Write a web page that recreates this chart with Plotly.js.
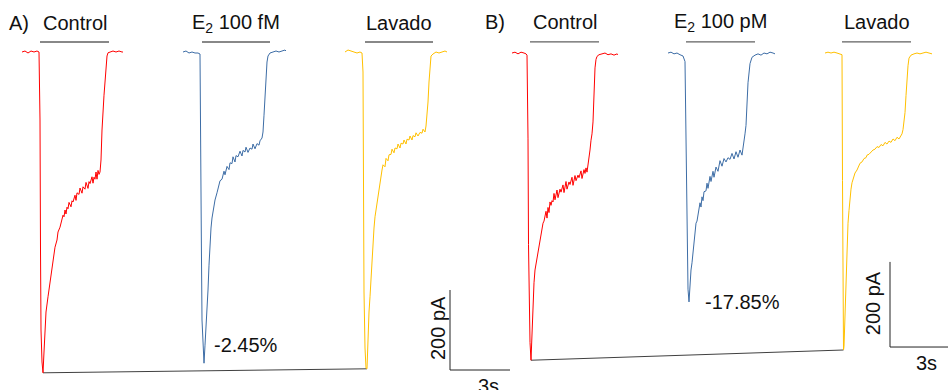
<!DOCTYPE html>
<html>
<head>
<meta charset="utf-8">
<script src="https://cdn.plot.ly/plotly-3.0.1.min.js"></script>
<style>body{margin:0;padding:0;background:#fff}#chart{width:948px;height:390px}</style>
</head>
<body>
<div id="chart"></div>
<script>
// ---------- Panel A (time in s, current in pA) ----------
const ctrlA_t = [1.10,1.25,1.40,1.55,1.70,1.85,1.95,2.00,2.025,2.05,2.10,2.15,2.20,2.25,2.30,2.40,2.50,2.60,2.70,2.75,2.85,2.90,3.00,3.10,3.15,3.20,3.25,3.30,3.35,3.40,3.45,3.55,3.60,3.65,3.75,3.80,3.85,3.95,4.00,4.10,4.15,4.25,4.30,4.40,4.45,4.50,4.60,4.65,4.70,4.75,4.80,4.85,4.90,4.95,5.00,5.05,5.10,5.20,5.30,5.35,5.40,5.50,5.65,5.80,5.95,6.10,6.15];
const ctrlA_i = [0,2.5,-2.5,2.5,0,2.5,0,-170,-495,-695,-775,-802,-750,-695,-650,-612,-578,-545,-510,-488,-470,-450,-438,-415,-408,-412,-395,-405,-388,-392,-376,-387,-372,-375,-358,-371,-352,-356,-340,-353,-337,-343,-326,-341,-324,-329,-312,-328,-313,-318,-300,-318,-296,-306,-300,-270,-195,-108,-32,-10,-2,0,2.5,0,2.5,0,0];

const e2A_t = [9.15,9.30,9.45,9.60,9.75,9.90,10.00,10.05,10.075,10.10,10.15,10.20,10.25,10.30,10.35,10.40,10.45,10.50,10.55,10.60,10.65,10.75,10.85,10.95,11.00,11.10,11.20,11.25,11.35,11.45,11.50,11.60,11.65,11.75,11.80,11.90,12.00,12.10,12.15,12.25,12.30,12.40,12.50,12.60,12.65,12.75,12.85,12.95,13.00,13.10,13.15,13.20,13.25,13.30,13.35,13.40,13.50,13.65,13.80,13.95,14.10,14.25,14.30];
const e2A_i = [0,2.5,-2.5,0,-2.5,-2.5,-5,-245,-520,-670,-745,-778,-733,-695,-658,-595,-533,-475,-440,-415,-395,-370,-352,-335,-322,-318,-298,-307,-286,-294,-277,-279,-262,-275,-259,-262,-248,-260,-246,-250,-238,-251,-240,-243,-230,-242,-229,-233,-222,-215,-200,-158,-108,-58,-25,-10,-2.5,0,2.5,0,2.5,5,2.5];

const lavA_t = [17.25,17.40,17.55,17.70,17.85,18.00,18.10,18.15,18.175,18.20,18.25,18.30,18.35,18.40,18.45,18.50,18.55,18.60,18.65,18.70,18.75,18.80,18.85,18.90,19.00,19.10,19.15,19.25,19.30,19.40,19.45,19.55,19.60,19.70,19.75,19.85,19.90,20.00,20.05,20.15,20.20,20.30,20.35,20.45,20.50,20.60,20.65,20.75,20.80,20.90,21.00,21.10,21.15,21.25,21.30,21.35,21.40,21.45,21.50,21.55,21.65,21.80,21.95,22.10,22.25,22.35];
const lavA_i = [0,5,2.5,0,-2.5,0,-2.5,-50,-350,-600,-740,-790,-792,-695,-650,-612,-570,-528,-462,-440,-412,-395,-370,-362,-320,-295,-282,-287,-266,-272,-257,-256,-243,-252,-240,-242,-230,-240,-228,-230,-220,-230,-218,-220,-210,-220,-209,-212,-202,-210,-201,-203,-193,-200,-185,-160,-125,-75,-25,-10,-5,0,-2.5,0,2.5,0];

// ---------- Panel B ----------
const ctrlB_t = [1.90,2.05,2.20,2.35,2.50,2.60,2.65,2.70,2.725,2.75,2.80,2.85,2.90,2.95,3.00,3.05,3.10,3.15,3.20,3.25,3.30,3.35,3.40,3.45,3.50,3.55,3.60,3.65,3.70,3.75,3.80,3.85,3.90,3.95,4.00,4.05,4.15,4.20,4.30,4.35,4.45,4.50,4.60,4.65,4.75,4.80,4.90,4.95,5.05,5.10,5.20,5.25,5.35,5.40,5.50,5.55,5.60,5.65,5.70,5.75,5.80,5.85,5.90,5.95,6.00,6.05,6.10,6.15,6.25,6.40,6.55,6.70,6.85,7.00,7.15,7.20];
const ctrlB_i = [0,2,-2,2,0,-2,-5,-200,-450,-600,-680,-722,-653,-574,-540,-510,-495,-480,-470,-452,-440,-430,-410,-400,-395,-385,-372,-388,-363,-375,-350,-358,-347,-350,-330,-345,-322,-340,-320,-327,-310,-328,-302,-320,-303,-309,-292,-311,-288,-300,-287,-293,-277,-295,-274,-283,-270,-280,-265,-250,-228,-205,-190,-162,-95,-35,-15,-8,-4,-2,0,-4,-2,-5,-2,-4];

const e2B_t = [9.70,9.85,10.00,10.15,10.30,10.45,10.55,10.60,10.65,10.70,10.75,10.80,10.85,10.90,10.95,11.00,11.05,11.10,11.15,11.20,11.25,11.30,11.35,11.40,11.45,11.50,11.60,11.65,11.70,11.80,11.85,11.95,12.00,12.10,12.20,12.30,12.40,12.50,12.60,12.70,12.80,12.90,13.00,13.10,13.20,13.30,13.40,13.45,13.50,13.55,13.60,13.65,13.70,13.80,13.90,14.05,14.20,14.35,14.50,14.65,14.80,14.95,15.05];
const e2B_i = [0,2,-2,0,-4,-7,-20,-250,-460,-555,-585,-535,-510,-493,-465,-440,-418,-400,-395,-380,-372,-352,-362,-338,-347,-326,-324,-306,-318,-290,-302,-278,-292,-268,-278,-253,-266,-248,-256,-246,-250,-236,-249,-232,-245,-228,-240,-226,-212,-190,-170,-120,-70,-25,-10,-5,-2,-5,0,-2,2,0,-2];

const lavB_t = [17.55,17.70,17.85,18.00,18.15,18.30,18.40,18.425,18.45,18.475,18.50,18.55,18.60,18.65,18.70,18.75,18.80,18.85,18.90,18.95,19.05,19.15,19.20,19.30,19.40,19.50,19.60,19.65,19.75,19.85,19.95,20.05,20.15,20.25,20.35,20.45,20.55,20.65,20.75,20.85,20.95,21.05,21.15,21.25,21.35,21.40,21.45,21.50,21.55,21.60,21.65,21.70,21.75,21.85,22.00,22.15,22.30,22.45,22.60,22.75,22.90];
const lavB_i = [0,2,0,2,0,-2,-4,-300,-600,-698,-690,-610,-520,-456,-400,-370,-338,-320,-305,-296,-282,-275,-268,-259,-256,-248,-246,-240,-238,-232,-228,-226,-220,-222,-215,-218,-210,-214,-207,-210,-202,-206,-198,-202,-195,-190,-180,-165,-140,-100,-60,-30,-12,-5,-2,0,-2,0,2,0,-2];

// reference lines joining control and washout peaks
const refA_t = [2.15, 18.35], refA_i = [-802, -792];
const refB_t = [2.85, 18.475], refB_i = [-722, -698];

// application bars (s)
const appA_start = [2.0, 10.1, 18.25], appA_end = [5.45, 13.5, 21.65];
const appB_start = [2.8, 10.6, 18.4], appB_end = [6.25, 14.05, 21.85];

const condLabels = ['Control', 'E<sub>2</sub> 100 fM', 'Lavado'];
const condLabelsB = ['Control', 'E<sub>2</sub> 100 pM', 'Lavado'];
const pctA = '-2.45%', pctB = '-17.85%';

// scale bars
const scaleI = 200, scaleT = 3;

const RED = '#ff0000', BLUE = '#3d6da6', GOLD = '#ffc000', GREY = '#404040';

function tr(x, y, color, ax, w) {
  return {x: x, y: y, type: 'scatter', mode: 'lines', xaxis: ax === 'B' ? 'x2' : 'x', yaxis: ax === 'B' ? 'y2' : 'y',
          line: {color: color, width: w || 1}, hoverinfo: 'skip', showlegend: false};
}

const traces = [
  tr(refA_t, refA_i, GREY, 'A'),
  tr(refB_t, refB_i, GREY, 'B'),
  tr(ctrlA_t, ctrlA_i, RED, 'A'),
  tr(e2A_t, e2A_i, BLUE, 'A'),
  tr(lavA_t, lavA_i, GOLD, 'A'),
  tr(ctrlB_t, ctrlB_i, RED, 'B'),
  tr(e2B_t, e2B_i, BLUE, 'B'),
  tr(lavB_t, lavB_i, GOLD, 'B'),
  // scale bars
  tr([22.5, 22.5, 22.5 + scaleT], [-795 + scaleI, -795, -795], '#222', 'A'),
  tr([20.8, 20.8, 20.8 + scaleT], [-691 + scaleI, -691, -691], '#222', 'B')
];

function appBars(starts, ends, yv, ax) {
  const xs = [], ys = [];
  starts.forEach((s, k) => { xs.push(s, ends[k], null); ys.push(yv, yv, null); });
  return tr(xs, ys, '#606060', ax, 1.3);
}
traces.push(appBars(appA_start, appA_end, 25, 'A'));
traces.push(appBars(appB_start, appB_end, 26, 'B'));

const F = {family: 'Liberation Sans, Arial, sans-serif', size: 20, color: '#111'};
const ann = [];
function addAnn(x, y, text, ax, extra) {
  ann.push(Object.assign({x: x, y: y, text: text, showarrow: false, xref: ax === 'B' ? 'x2' : 'x', yref: ax === 'B' ? 'y2' : 'y',
    font: F, xanchor: 'center', yanchor: 'middle'}, extra || {}));
}
condLabels.forEach((t, k) => addAnn((appA_start[k] + appA_end[k]) / 2, 72, t, 'A'));
condLabelsB.forEach((t, k) => addAnn((appB_start[k] + appB_end[k]) / 2, 72, t, 'B'));
addAnn(0.95, 72, 'A)', 'A');
addAnn(1.05, 72, 'B)', 'B');
addAnn(12.3, -733, pctA, 'A');
addAnn(13.4, -585, pctB, 'B');
addAnn(21.9, -690, '200 pA', 'A', {textangle: -90});
addAnn(19.95, -588, '200 pA', 'B', {textangle: -90});
addAnn(24.4, -835, '3s', 'A');
addAnn(22.6, -728, '3s', 'B');

const hid = {visible: false, fixedrange: true};
const layout = {
  width: 948, height: 390,
  margin: {l: 0, r: 0, t: 0, b: 0},
  paper_bgcolor: '#fff', plot_bgcolor: 'rgba(0,0,0,0)',
  showlegend: false,
  xaxis: Object.assign({range: [0, 47.4], domain: [0, 1]}, hid),
  yaxis: Object.assign({range: [-845, 130], domain: [0, 1]}, hid),
  xaxis2: Object.assign({range: [-23.7, 23.7], domain: [0, 1], overlaying: 'x'}, hid),
  yaxis2: Object.assign({range: [-792, 124.6], domain: [0, 1], overlaying: 'y'}, hid),
  annotations: ann
};
Plotly.newPlot('chart', traces, layout, {displayModeBar: false, staticPlot: true});
</script>
</body>
</html>
